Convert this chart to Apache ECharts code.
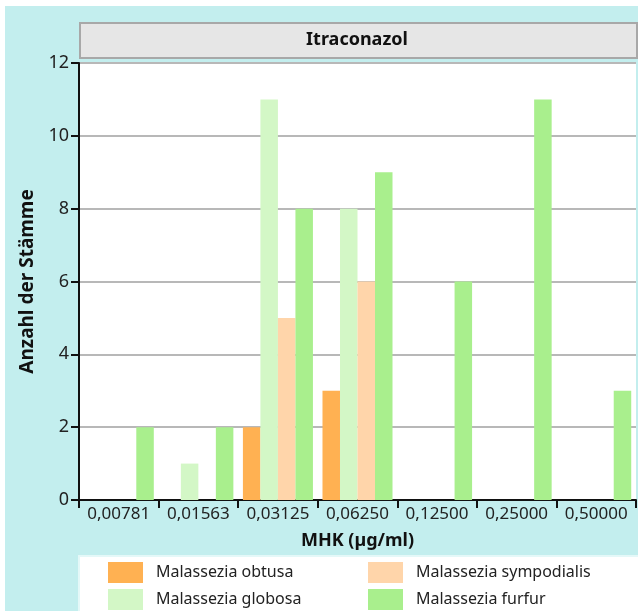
<!DOCTYPE html>
<html lang="de">
<head>
<meta charset="UTF-8">
<title>Itraconazol</title>
<script src="https://cdn.jsdelivr.net/npm/echarts@6/dist/echarts.min.js"></script>
<style>
    html, body { margin: 0; padding: 0; background: #fff; }
    #chart { width: 638px; height: 611px; }
</style>
</head>
<body>
<div id="chart"></div>
<script>
    // MHK-Stufen (x-Achse)
    var categories = ['0,00781', '0,01563', '0,03125', '0,06250', '0,12500', '0,25000', '0,50000'];

    // Anzahl der Stämme je Art
    var obtusa      = [0, 0, 2, 3, 0, 0, 0];
    var globosa     = [0, 1, 11, 8, 0, 0, 0];
    var sympodialis = [0, 0, 5, 6, 0, 0, 0];
    var furfur      = [2, 2, 8, 9, 6, 11, 3];

    var yTicks = [0, 2, 4, 6, 8, 10, 12];

    var font = 'Noto Sans';

    function bar(name, data, color) {
        return {
            name: name,
            type: 'bar',
            data: data.map(function (v) { return v === 0 ? null : v; }),
            barGap: '0%',
            barCategoryGap: '12%',
            itemStyle: { color: color },
            emphasis: { disabled: true }
        };
    }

    var legendText = { fontSize: 16, color: '#222', fontFamily: font, padding: [0, 0, 0, 8] };

    var chart = echarts.init(document.getElementById('chart'));

    chart.setOption({
        animation: false,
        textStyle: { fontFamily: font },
        graphic: [
            // Hintergrund
            { type: 'rect', left: 5, top: 6, shape: { width: 633, height: 605 },
              style: { fill: '#c3eeee' }, z: -10 },
            // Titelbox
            { type: 'rect', left: 79, top: 22, shape: { width: 557, height: 35 },
              style: { fill: '#e6e6e6', stroke: '#a8a8a8', lineWidth: 2 }, z: -5 },
            { type: 'text', x: 357, y: 40, z: 10,
              style: { text: 'Itraconazol', font: 'bold 18px "Noto Sans"', fill: '#111',
                       textAlign: 'center', textVerticalAlign: 'middle' } },
            // Legendenbox
            { type: 'rect', left: 78, top: 555, shape: { width: 560, height: 60 },
              style: { fill: '#fff', stroke: '#e4f8f8', lineWidth: 2 }, z: -5 }
        ],
        grid: {
            left: 79, right: 2, top: 63, bottom: 111,
            show: true, backgroundColor: '#fff', borderWidth: 0
        },
        legend: [
            {
                data: ['Malassezia obtusa', 'Malassezia globosa'],
                orient: 'vertical', left: 108, top: 562, padding: 0,
                icon: 'rect', itemWidth: 35, itemHeight: 21, itemGap: 6,
                textStyle: legendText,
                selectedMode: false
            },
            {
                data: ['Malassezia sympodialis', 'Malassezia furfur'],
                orient: 'vertical', left: 368, top: 562, padding: 0,
                icon: 'rect', itemWidth: 35, itemHeight: 21, itemGap: 6,
                textStyle: legendText,
                selectedMode: false
            }
        ],
        xAxis: {
            type: 'category',
            data: categories,
            name: 'MHK (µg/ml)',
            nameLocation: 'middle',
            nameGap: 32,
            nameTextStyle: { fontSize: 18, fontWeight: 'bold', color: '#111' },
            axisLine: { lineStyle: { color: '#111', width: 2 } },
            axisTick: { show: true, interval: 0, length: 8, lineStyle: { color: '#111', width: 2 } },
            axisLabel: { interval: 0, fontSize: 17, color: '#222', margin: 6 }
        },
        yAxis: {
            type: 'value',
            min: yTicks[0],
            max: yTicks[yTicks.length - 1],
            interval: 2,
            name: 'Anzahl der Stämme',
            nameLocation: 'middle',
            nameGap: 34,
            nameTextStyle: { fontSize: 19, fontWeight: 'bold', color: '#111' },
            axisLine: { show: true, lineStyle: { color: '#111', width: 2 } },
            axisTick: { show: true, length: 8, lineStyle: { color: '#111', width: 2 } },
            axisLabel: { fontSize: 18, color: '#222', margin: 10 },
            splitLine: { lineStyle: { color: '#b8b8b8', width: 2 } }
        },
        series: [
            bar('Malassezia obtusa', obtusa, '#ffb152'),
            bar('Malassezia globosa', globosa, '#d3f7c6'),
            bar('Malassezia sympodialis', sympodialis, '#ffd5aa'),
            bar('Malassezia furfur', furfur, '#a9ef8d')
        ]
    });
</script>
</body>
</html>
